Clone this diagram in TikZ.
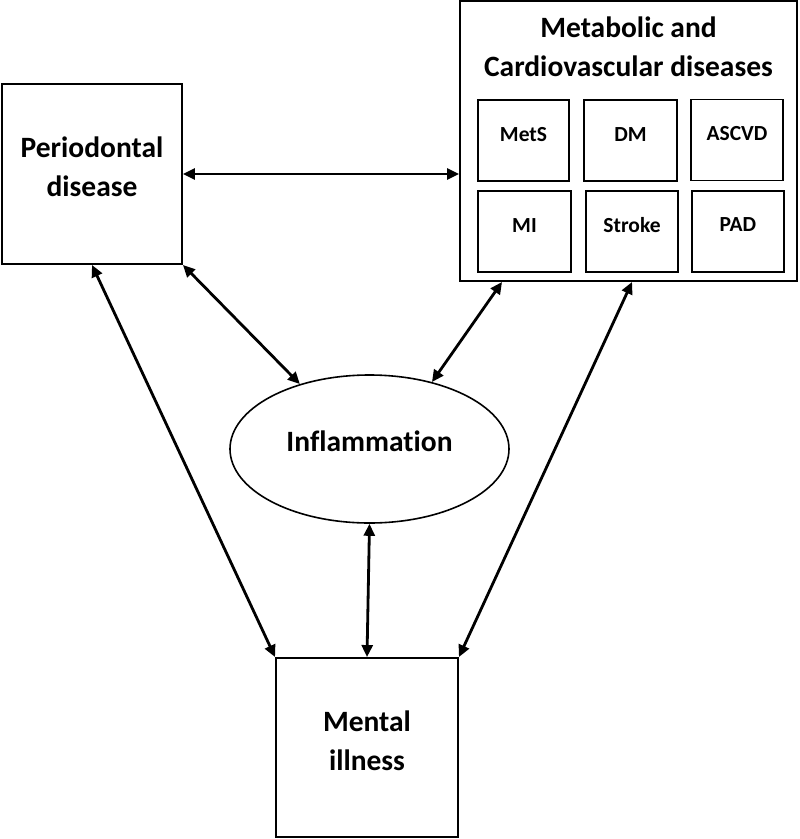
\documentclass[tikz,border=0pt]{standalone}
\usepackage{fontspec}
\setmainfont{Carlito}[Ligatures={NoCommon,NoDiscretionary,NoContextual}]
\usetikzlibrary{shapes.geometric,arrows.meta}
\begin{document}
\begin{tikzpicture}[x=1pt,y=-1pt,
  bigbox/.style={draw,line width=1.9pt,inner sep=0pt},
  smallbox/.style={draw,line width=1.6pt,inner sep=0pt,minimum height=81pt},
  bigtxt/.style={font=\fontsize{29.5}{39}\selectfont\bfseries,align=center,inner sep=0pt},
  smalltxt/.style={font=\fontsize{21.5}{25}\selectfont\bfseries,inner sep=0pt,anchor=base},
  arr/.style={line width=2.8pt,{Triangle[length=12pt,width=11pt]}-{Triangle[length=12pt,width=11pt]}}
]
\useasboundingbox (0,0) rectangle (800,839);
% boxes
\node[bigbox,minimum width=180pt,minimum height=180pt] (peri) at (92,174) {};
\node[bigbox,minimum width=337pt,minimum height=280pt] (met) at (628.5,141) {};
\node[bigbox,minimum width=182pt,minimum height=179pt] (ment) at (367,747.5) {};
\node[draw,ellipse,line width=1.6pt,inner sep=0pt,minimum width=279pt,minimum height=148pt] (ell) at (369.5,449) {};
% texts
\node[bigtxt] (peritxt) at (92,167) {Periodontal\\disease};
\node[bigtxt] (mettxt) at (628.5,47) {Metabolic and\\Cardiovascular diseases};
\node[bigtxt] (menttxt) at (367,740.5) {Mental\\illness};
\node[bigtxt,anchor=base] (elltxt) at (369.5,451) {Inflammation};
% small boxes
\node[smallbox,minimum width=91pt] (mets) at (523.5,140.5) {};
\node[smallbox,minimum width=93pt] (dm) at (630.5,140.5) {};
\node[smallbox,minimum width=92pt] (ascvd) at (737,140) {};
\node[smallbox,minimum width=93pt] (mi) at (524.5,231.5) {};
\node[smallbox,minimum width=92pt] (stroke) at (632,231.5) {};
\node[smallbox,minimum width=92pt] (pad) at (738,231.5) {};
\node[smalltxt] (metst) at (523.5,141) {MetS};
\node[smalltxt] (dmt) at (630.5,141) {DM};
\node[smalltxt] (ascvdt) at (737,140) {ASCVD};
\node[smalltxt] (mit) at (524.5,232) {MI};
\node[smalltxt] (stroket) at (632,232) {Stroke};
\node[smalltxt] (padt) at (738,231) {PAD};
% connectors
\draw[arr] (peri.east) -- (peri.east -| met.west);
\draw[arr] (peri.south) -- (ment.north west);
\draw[arr] (peri.south east) -- (ell.137);
\draw[arr] ([xshift=43pt]met.south west) -- (ell.47);
\draw[arr] ([xshift=173pt]met.south west) -- (ment.north east);
\draw[arr] (ell.south) -- (ment.north);
\end{tikzpicture}
\end{document}
